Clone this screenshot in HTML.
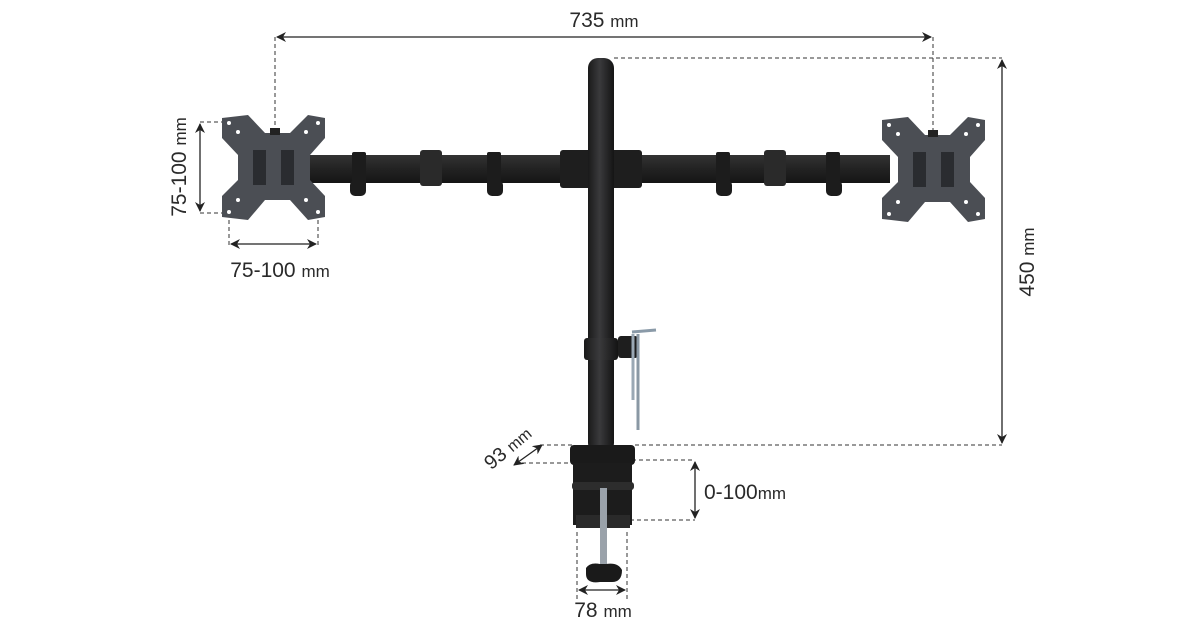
<!DOCTYPE html>
<html><head><meta charset="utf-8"><style>
html,body{margin:0;padding:0;background:#fff;width:1200px;height:630px;overflow:hidden}
svg{display:block}
text{font-family:"Liberation Sans",sans-serif;fill:#2a2a2a}
</style></head><body>
<svg width="1200" height="630" viewBox="0 0 1200 630" xmlns="http://www.w3.org/2000/svg">
<defs>
<marker id="a" markerWidth="10" markerHeight="10" refX="9" refY="5" orient="auto-start-reverse" markerUnits="userSpaceOnUse"><path d="M0,0 L10,5 L0,10 L3,5 Z" fill="#222"/></marker>
<linearGradient id="pole" x1="0" x2="1"><stop offset="0" stop-color="#1a1a1a"/><stop offset=".45" stop-color="#3a3a3c"/><stop offset="1" stop-color="#141414"/></linearGradient>
<linearGradient id="arm" x1="0" y1="0" x2="0" y2="1"><stop offset="0" stop-color="#333"/><stop offset=".5" stop-color="#222"/><stop offset="1" stop-color="#151515"/></linearGradient>
</defs>

<g stroke="#333" stroke-width="1" stroke-dasharray="4,3" fill="none">
<line x1="275" y1="37" x2="275" y2="128"/>
<line x1="933" y1="37" x2="933" y2="130"/>
<line x1="614" y1="58" x2="1002" y2="58"/>
<line x1="635" y1="445" x2="1002" y2="445"/>
<line x1="200" y1="122" x2="228" y2="122"/>
<line x1="200" y1="213" x2="228" y2="213"/>
<line x1="229" y1="213" x2="229" y2="246"/>
<line x1="318" y1="213" x2="318" y2="246"/>
<line x1="540" y1="445" x2="575" y2="445"/>
<line x1="515" y1="463" x2="575" y2="463"/>
<line x1="632" y1="460" x2="695" y2="460"/>
<line x1="630" y1="520" x2="695" y2="520"/>
<line x1="577" y1="532" x2="577" y2="600"/>
<line x1="627" y1="532" x2="627" y2="600"/>
</g>
<g stroke="#222" stroke-width="1.3" fill="none">
<line x1="277" y1="37" x2="931" y2="37" marker-start="url(#a)" marker-end="url(#a)"/>
<line x1="1002" y1="60" x2="1002" y2="443" marker-start="url(#a)" marker-end="url(#a)"/>
<line x1="200" y1="124" x2="200" y2="211" marker-start="url(#a)" marker-end="url(#a)"/>
<line x1="231" y1="244" x2="316" y2="244" marker-start="url(#a)" marker-end="url(#a)"/>
<line x1="514" y1="465" x2="542" y2="445" marker-start="url(#a)" marker-end="url(#a)"/>
<line x1="695" y1="462" x2="695" y2="518" marker-start="url(#a)" marker-end="url(#a)"/>
<line x1="579" y1="590" x2="625" y2="590" marker-start="url(#a)" marker-end="url(#a)"/>
</g>
<text x="604" y="27" font-size="21" text-anchor="middle">735 <tspan font-size="17">mm</tspan></text>
<text transform="translate(1034,262) rotate(-90)" font-size="21" text-anchor="middle">450 <tspan font-size="17">mm</tspan></text>
<text transform="translate(186,167) rotate(-90)" font-size="21" text-anchor="middle">75-100 <tspan font-size="17">mm</tspan></text>
<text x="280" y="277" font-size="21" text-anchor="middle">75-100 <tspan font-size="17">mm</tspan></text>
<text transform="translate(512,453) rotate(-40)" font-size="20" text-anchor="middle">93 <tspan font-size="16">mm</tspan></text>
<text x="704" y="499" font-size="21">0-100<tspan font-size="17">mm</tspan></text>
<text x="603" y="617" font-size="21" text-anchor="middle">78 <tspan font-size="17">mm</tspan></text>

<rect x="305" y="155" width="285" height="28" fill="url(#arm)"/>
<rect x="612" y="155" width="278" height="28" fill="url(#arm)"/>
<g fill="#1c1c1c">
<rect x="352" y="152" width="14" height="34" rx="2"/><rect x="350" y="180" width="16" height="16" rx="5"/>
<rect x="487" y="152" width="14" height="34" rx="2"/><rect x="487" y="180" width="16" height="16" rx="5"/>
<rect x="420" y="150" width="22" height="36" rx="3" fill="#2a2a2a"/>
<rect x="716" y="152" width="14" height="34" rx="2"/><rect x="716" y="180" width="16" height="16" rx="5"/>
<rect x="826" y="152" width="14" height="34" rx="2"/><rect x="826" y="180" width="16" height="16" rx="5"/>
<rect x="764" y="150" width="22" height="36" rx="3" fill="#2a2a2a"/>
<rect x="560" y="150" width="82" height="38" rx="3" fill="#1e1e1e"/>
</g>
<rect x="588" y="58" width="26" height="395" rx="10" fill="url(#pole)"/>
<rect x="584" y="338" width="34" height="22" rx="3" fill="url(#pole)"/>
<rect x="618" y="336" width="20" height="22" rx="3" fill="#1e1e1e"/>
<path d="M632 332 L656 330" stroke="#8a9aa8" stroke-width="3"/>
<path d="M633 334 V400" stroke="#9aa8b4" stroke-width="3"/>
<path d="M638 334 V430" stroke="#8a98a4" stroke-width="3"/>
<rect x="570" y="445" width="65" height="20" rx="4" fill="#1a1a1a"/>
<rect x="573" y="463" width="59" height="62" fill="#1c1c1c"/>
<rect x="572" y="482" width="62" height="8" rx="3" fill="#2d2d2d"/>
<rect x="576" y="515" width="54" height="13" fill="#2a2a2a"/>
<rect x="600" y="488" width="7" height="78" fill="#9aa2aa"/>
<path d="M586 568 Q590 562 600 564 L606 564 Q618 562 622 570 Q622 582 612 582 L600 582 Q586 584 586 574 Z" fill="#1a1a1a"/>

<g id="plate" fill="#4b4e54">
<path d="M222 118 L248 115 L265 133 L290 133 L308 115 L325 118 L325 138 L310 155 L310 180 L325 196 L325 217 L308 220 L290 200 L265 200 L248 220 L222 217 L222 196 L238 180 L238 155 L222 138 Z"/>
</g>
<g fill="#fff"><circle cx="229" cy="123" r="2"/><circle cx="318" cy="123" r="2"/><circle cx="229" cy="212" r="2"/><circle cx="318" cy="212" r="2"/>
<circle cx="238" cy="132" r="2"/><circle cx="306" cy="132" r="2"/><circle cx="238" cy="200" r="2"/><circle cx="306" cy="200" r="2"/></g>
<rect x="253" y="150" width="13" height="35" fill="#2a2c30"/><rect x="281" y="150" width="13" height="35" fill="#2a2c30"/>
<rect x="270" y="128" width="10" height="7" fill="#222"/>
<use href="#plate" transform="translate(660,2)"/>
<g fill="#fff"><circle cx="889" cy="125" r="2"/><circle cx="978" cy="125" r="2"/><circle cx="889" cy="214" r="2"/><circle cx="978" cy="214" r="2"/>
<circle cx="898" cy="134" r="2"/><circle cx="966" cy="134" r="2"/><circle cx="898" cy="202" r="2"/><circle cx="966" cy="202" r="2"/></g>
<rect x="913" y="152" width="13" height="35" fill="#2a2c30"/><rect x="941" y="152" width="13" height="35" fill="#2a2c30"/>
<rect x="928" y="130" width="10" height="7" fill="#222"/>
</svg>
</body></html>
